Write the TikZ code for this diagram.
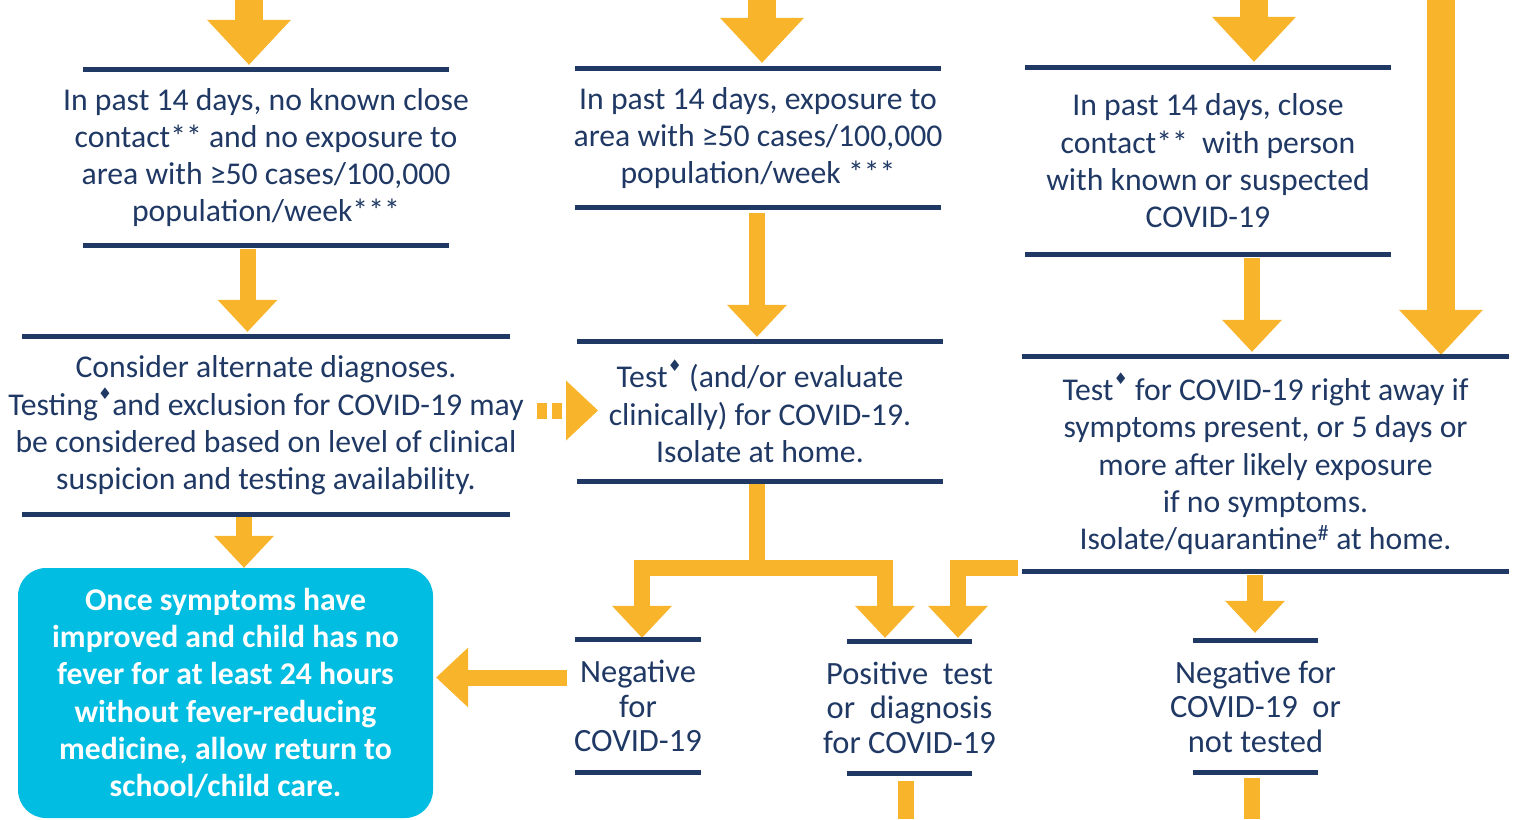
\documentclass[tikz,border=0pt]{standalone}
\usepackage{fontspec}
\setmainfont{Carlito}
\newfontfamily\symfont{DejaVu Sans}
\usetikzlibrary{arrows.meta,calc,positioning}
\definecolor{navy}{HTML}{1F3864}
\definecolor{amber}{HTML}{F8B52B}
\definecolor{cyanbox}{HTML}{00BDE1}
\newcommand{\dmd}{\raisebox{0.5em}{\fontsize{16}{16}\selectfont\symfont ♦}}

\begin{document}
\begin{tikzpicture}[x=1pt,y=-1pt,line join=miter,
    rule/.style={draw=navy,line width=5pt},
    panel/.style={inner sep=0pt,align=center,text=navy,
      font=\fontsize{31.7}{37.3}\selectfont},
    result/.style={panel,font=\fontsize{32.5}{34.5}\selectfont},
    flow/.style={draw=amber,line width=16pt,
      -{Triangle[width=60pt,length=32pt,line width=0pt 0 0]}},
    bigflow/.style={draw=amber,line width=28pt,
      -{Triangle[width=84pt,length=45pt,line width=0pt 0 0]}},
    stub/.style={draw=amber,line width=16pt}]
    \useasboundingbox (0,0) rectangle (1520,819);

    % --- left column ---
    \node[panel,minimum height=175pt] (n1) at (266,157.5)
      {In past 14 days, no known close\\ contact** and no exposure to\\
       area with ≥50 cases/100,000\\ population/week***};
    \node[panel,minimum height=177pt] (n2) at (266,425.5)
      {Consider alternate diagnoses.\\ Testing\dmd and exclusion for COVID-19 may\\
       be considered based on level of clinical\\ suspicion and testing availability.};
    \node[fill=cyanbox,rounded corners=28pt,minimum width=415pt,minimum height=250pt,
      inner sep=0pt,align=center,text=white,
      font=\fontsize{31.7}{37.2}\selectfont\bfseries] (n3) at (225.5,693)
      {Once symptoms have\\ improved and child has no\\ fever for at least 24 hours\\
       without fever-reducing\\ medicine, allow return to\\ school/child care.};

    % --- middle column ---
    \node[panel,minimum height=138pt] (m1) at (758,138)
      {In past 14 days, exposure to\\ area with ≥50 cases/100,000\\ population/week ***};
    \node[panel,minimum height=139pt] (m2) at (760,411.5)
      {Test\dmd\ (and/or evaluate\\ clinically) for COVID-19.\\ Isolate at home.};

    % --- right column ---
    \node[panel,minimum height=186pt] (r1) at (1208,161)
      {In past 14 days, close\\ contact** \ with person\\ with known or suspected\\ COVID-19};
    \node[panel,minimum height=214pt] (r2) at (1265.5,464)
      {Test\dmd\ for COVID-19 right away if\\ symptoms present, or 5 days or\\
       more after likely exposure\\ if no symptoms.\\ Isolate/quarantine\textsuperscript{\#} at home.};

    % --- results ---
    \node[result,minimum height=132pt] (b1) at (638,706) {Negative\\ for\\ COVID-19};
    \node[result,minimum height=131pt] (b2) at (909.5,707.5) {Positive \ test\\ or \ diagnosis\\ for COVID-19};
    \node[result,minimum height=131pt] (b3) at (1255.5,706.5) {Negative for\\ COVID-19 \ or\\ not tested};

    \coordinate (in1) at (249,0);
    \coordinate (in2) at (762,0);
    \coordinate (in3) at (1254,0);
    \coordinate (in4) at (1441,0);
    \coordinate (out2) at (906,819);
    \coordinate (out3) at (1252,819);

    % arrows
    \draw[bigflow] (in1) -- ([xshift=-17pt,yshift=5pt]n1.north);
    \draw[bigflow] (in2) -- ([xshift=4pt,yshift=6pt]m1.north);
    \draw[bigflow] (in3) -- ([xshift=46pt,yshift=6pt]r1.north);
    \draw[bigflow] (in4) -- ([xshift=175.5pt,yshift=2pt]r2.north);
    \draw[flow] ([xshift=-18.5pt,yshift=-4pt]n1.south) -- ([xshift=-18.5pt,yshift=5pt]n2.north);
    \draw[flow] ([xshift=-22pt,yshift=-3pt]n2.south) -- ([xshift=18.5pt]n3.north);
    \draw[flow] ([xshift=-1pt,yshift=-6pt]m1.south) -- ([xshift=-3pt,yshift=5pt]m2.north);
    \draw[flow] ([xshift=44pt,yshift=-4pt]r1.south) -- ([xshift=-13.5pt,yshift=5pt]r2.north);
    \draw[flow,dash pattern=on 10pt off 5pt] ([xshift=271pt,yshift=15pt]n2.center)
      -- ([xshift=-162pt,yshift=1pt]m2.center);
    \draw[flow] ([xshift=-3pt,yshift=-2pt]m2.south) -- ++(0,85) -| ([xshift=4pt,yshift=2pt]b1.north);
    \draw[flow] ([xshift=-3pt,yshift=-87pt]m2.south) -| ([xshift=-24.5pt,yshift=4pt]b2.north);
    \draw[flow] ([xshift=-247.5pt,yshift=3pt]r2.south) -| ([xshift=48.5pt,yshift=4pt]b2.north);
    \draw[flow] ([xshift=-10.5pt,yshift=-4pt]r2.south) -- ([xshift=-0.5pt,yshift=8pt]b3.north);
    \draw[flow] ([xshift=-71pt,yshift=28.5pt]b1.center) -- ([xshift=3pt,yshift=15.5pt]n3.east);
    \draw[stub] ([xshift=-3.5pt,yshift=-8pt]b2.south) -- (out2);
    \draw[stub] ([xshift=-3.5pt,yshift=-6pt]b3.south) -- (out3);

    % rules above and below each panel
    \foreach \n/\w in {n1/183,n2/244,m1/183,m2/183,r1/183,r2/243.5,b1/63,b2/62.5,b3/62.5}
      \draw[rule] ([xshift=-\w pt]\n.north) -- ([xshift=\w pt]\n.north)
                  ([xshift=-\w pt]\n.south) -- ([xshift=\w pt]\n.south);
\end{tikzpicture}
\end{document}
